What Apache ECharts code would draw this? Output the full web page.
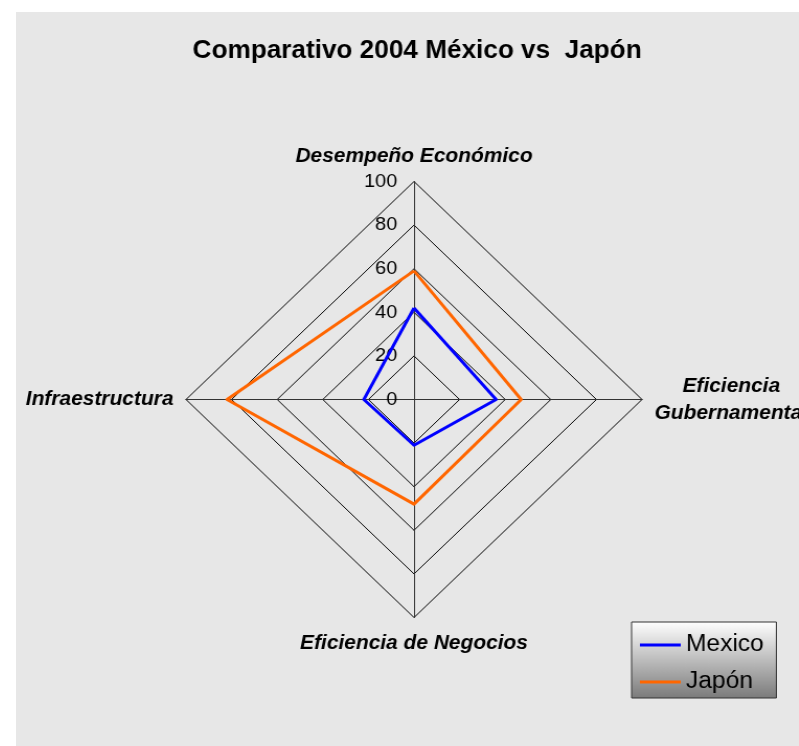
<!DOCTYPE html>
<html>
<head>
<meta charset="utf-8">
<script src="https://cdn.jsdelivr.net/npm/echarts@6/dist/echarts.min.js"></script>
<style>
  html, body { margin: 0; padding: 0; background: #ffffff; overflow: hidden; }
  #bg { position: absolute; left: 16px; top: 12px; width: 783px; height: 734px; background: #e7e7e7; }
  #chart { position: absolute; left: 0; top: 0; width: 799px; height: 746px;
           transform: scaleX(1.046); transform-origin: 414px 0; }
</style>
</head>
<body>
<div id="bg"></div>
<div id="chart"></div>
<script>
// Data
var chartTitle = 'Comparativo 2004 México vs  Japón';
var indicatorNames = ['Desempeño Económico', 'Infraestructura', 'Eficiencia de Negocios', 'Eficiencia\nGubernamental'];
var seriesNames = ['Mexico', 'Japón'];
var mexicoValues = [42, 22, 21, 36];
var japonValues = [59, 82, 48, 47];
var tickLabels = [0, 20, 40, 60, 80, 100];

var CX = 414, CY = 399.5, R = 218;
var FONT = 'Liberation Sans, Arial, sans-serif';
var chart = echarts.init(document.getElementById('chart'), null, { renderer: 'canvas' });

var option = {
  backgroundColor: 'transparent',
  animation: false,
  title: {
    text: chartTitle,
    left: 412,
    top: 34,
    textAlign: 'center',
    textStyle: { fontFamily: FONT, fontSize: 25, fontWeight: 'bold', color: '#000' }
  },
  legend: {
    orient: 'vertical',
    left: 622,
    top: 622,
    data: seriesNames,
    icon: 'rect',
    itemWidth: 39,
    itemHeight: 3,
    itemGap: 11,
    padding: [10, 12, 3, 8],
    borderColor: '#333',
    borderWidth: 1,
    backgroundColor: new echarts.graphic.LinearGradient(0, 0, 0, 1, [
      { offset: 0, color: '#ffffff' },
      { offset: 1, color: '#7a7a7a' }
    ]),
    textStyle: { fontFamily: FONT, fontSize: 23.5, color: '#000', lineHeight: 26 }
  },
  grid: { left: CX, top: CY - R, width: 1, height: R, containLabel: false },
  xAxis: { type: 'value', show: false, min: 0, max: 1 },
  yAxis: {
    type: 'value', min: 0, max: 100, interval: 20,
    axisLine: { show: false }, axisTick: { show: false }, splitLine: { show: false },
    axisLabel: {
      margin: 16,
      fontFamily: FONT, fontSize: 19, color: '#000',
      formatter: function (v) { return tickLabels.indexOf(v) >= 0 ? String(v) : ''; }
    }
  },
  radar: {
    center: [CX, CY],
    radius: R,
    shape: 'polygon',
    splitNumber: 5,
    nameGap: 12,
    indicator: indicatorNames.map(function (n) { return { name: n, min: 0, max: 100 }; }),
    axisName: {
      color: '#000',
      fontFamily: FONT,
      fontSize: 20,
      fontWeight: 'bold',
      fontStyle: 'italic',
      formatter: function (name) {
        return name.split('\n').map(function (s) { return '{c|' + s + '}'; }).join('\n');
      },
      rich: {
        c: { align: 'center', fontFamily: FONT, fontSize: 20, fontWeight: 'bold', fontStyle: 'italic', color: '#000', lineHeight: 27 }
      }
    },
    axisLine: { lineStyle: { color: '#333', width: 1 } },
    splitLine: { lineStyle: { color: '#000', width: 1 } },
    splitArea: { show: false },
    axisLabel: { show: false }
  },
  series: [{
    type: 'radar',
    symbol: 'none',
    data: [
      { name: seriesNames[0], value: mexicoValues, lineStyle: { color: '#0000ff', width: 3 }, itemStyle: { color: '#0000ff' } },
      { name: seriesNames[1], value: japonValues, lineStyle: { color: '#ff6600', width: 3 }, itemStyle: { color: '#ff6600' } }
    ]
  }]
};
chart.setOption(option);
</script>
</body>
</html>
